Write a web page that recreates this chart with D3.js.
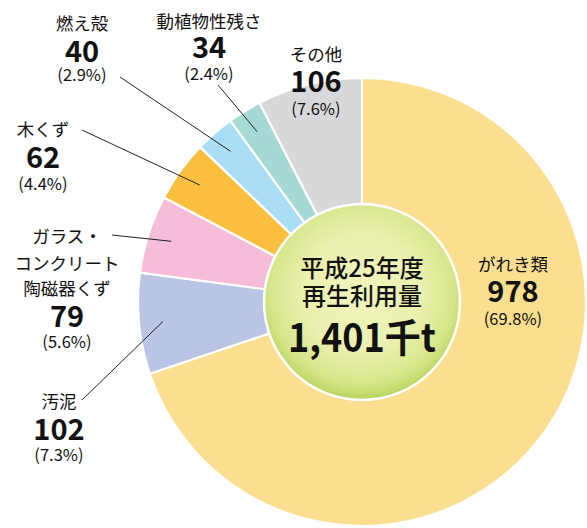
<!DOCTYPE html>
<html><head><meta charset="utf-8">
<script src="https://cdn.jsdelivr.net/npm/d3@7"></script>
<style>
html,body{margin:0;padding:0;background:#fff;}
svg{display:block;font-family:"Noto Sans CJK JP","Noto Sans",sans-serif;}
</style></head>
<body>
<svg id="chart" width="587" height="528"></svg>
<script>
const categories = ["がれき類","汚泥","ガラス・コンクリート陶磁器くず","木くず","燃え殻","動植物性残さ","その他"];
const nameLines = [["がれき類"],["汚泥"],["ガラス・","コンクリート","陶磁器くず"],["木くず"],["燃え殻"],["動植物性残さ"],["その他"]];
const values = [978,102,79,62,40,34,106];
const percents = ["69.8%","7.3%","5.6%","4.4%","2.9%","2.4%","7.6%"];
const colors = ["#FBDE8F","#BAC4E4","#F5BDD7","#FBBF40","#AADDF6","#A6D9D4","#D7D8DA"];
const centerLines = ["平成25年度","再生利用量"];
const totalLabel = "1,401千t";

const W = 587, H = 528;
const cx = 362, cy = 302, R = 224, innerR = 98;

// label layout: center x, baselines of name lines, number, percent; leader start
const layout = [
  {x:513, names:[271], num:302, pct:325, leader:null},
  {x:59,  names:[408], num:440, pct:461, leader:[82,400]},
  {x:67,  names:[243,270,295], num:327, pct:348, leader:[112,235]},
  {x:43,  names:[136], num:168, pct:190, leader:[82,130]},
  {x:82,  names:[30], num:62, pct:81, leader:[120,77]},
  {x:209, names:[28], num:58, pct:80, leader:[218,85]},
  {x:316, names:[61], num:92, pct:115, leader:null}
];

const svg = d3.select("#chart");
const defs = svg.append("defs");
const grad = defs.append("radialGradient").attr("id","cg").attr("cx","50%").attr("cy","45%").attr("r","55%");
grad.append("stop").attr("offset","0%").attr("stop-color","#F1F5BE");
grad.append("stop").attr("offset","55%").attr("stop-color","#EAF0AE");
grad.append("stop").attr("offset","85%").attr("stop-color","#D6E68A");
grad.append("stop").attr("offset","100%").attr("stop-color","#B7D45E");

const pie = d3.pie().sort(null).value(d=>d)(values);
const arc = d3.arc().innerRadius(0).outerRadius(R);
const g = svg.append("g").attr("transform",`translate(${cx},${cy})`);

g.selectAll("path.slice").data(pie).join("path")
  .attr("class","slice")
  .attr("d",arc)
  .attr("fill",(d,i)=>colors[i])
  .attr("stroke","#fff").attr("stroke-width",2.2).attr("stroke-linejoin","round");

// center circle
g.append("circle").attr("r",innerR).attr("fill","url(#cg)").attr("stroke","#fff").attr("stroke-width",2.5);

// leader lines
const leadArc = d3.arc().innerRadius(200).outerRadius(200);
pie.forEach((d,i)=>{
  const L = layout[i];
  if(!L.leader) return;
  const [px,py] = leadArc.centroid(d);
  svg.append("line")
    .attr("x1",L.leader[0]).attr("y1",L.leader[1])
    .attr("x2",cx+px).attr("y2",cy+py)
    .attr("stroke","#222").attr("stroke-width",1);
});

// labels
const lab = svg.append("g").attr("fill","#111").attr("text-anchor","middle");
categories.forEach((c,i)=>{
  const L = layout[i];
  nameLines[i].forEach((t,j)=>{
    lab.append("text").attr("x",L.x).attr("y",L.names[j]).attr("font-size",17.5).text(t);
  });
  lab.append("text").attr("x",L.x).attr("y",L.num).attr("font-size",29).attr("font-weight","bold").text(values[i]);
  lab.append("text").attr("x",L.x).attr("y",L.pct).attr("font-size",16.5).text("("+percents[i]+")");
});

// center text
const ct = svg.append("g").attr("fill","#111").attr("text-anchor","middle");
ct.append("text").attr("x",cx).attr("y",277).attr("font-size",24).attr("font-weight",500).text(centerLines[0]);
ct.append("text").attr("x",cx).attr("y",305).attr("font-size",24).attr("font-weight",500).text(centerLines[1]);
ct.append("text").attr("x",cx).attr("y",352).attr("font-size",39).attr("font-weight","bold")
  .attr("textLength",148).attr("lengthAdjust","spacingAndGlyphs").text(totalLabel);
</script>
</body></html>
